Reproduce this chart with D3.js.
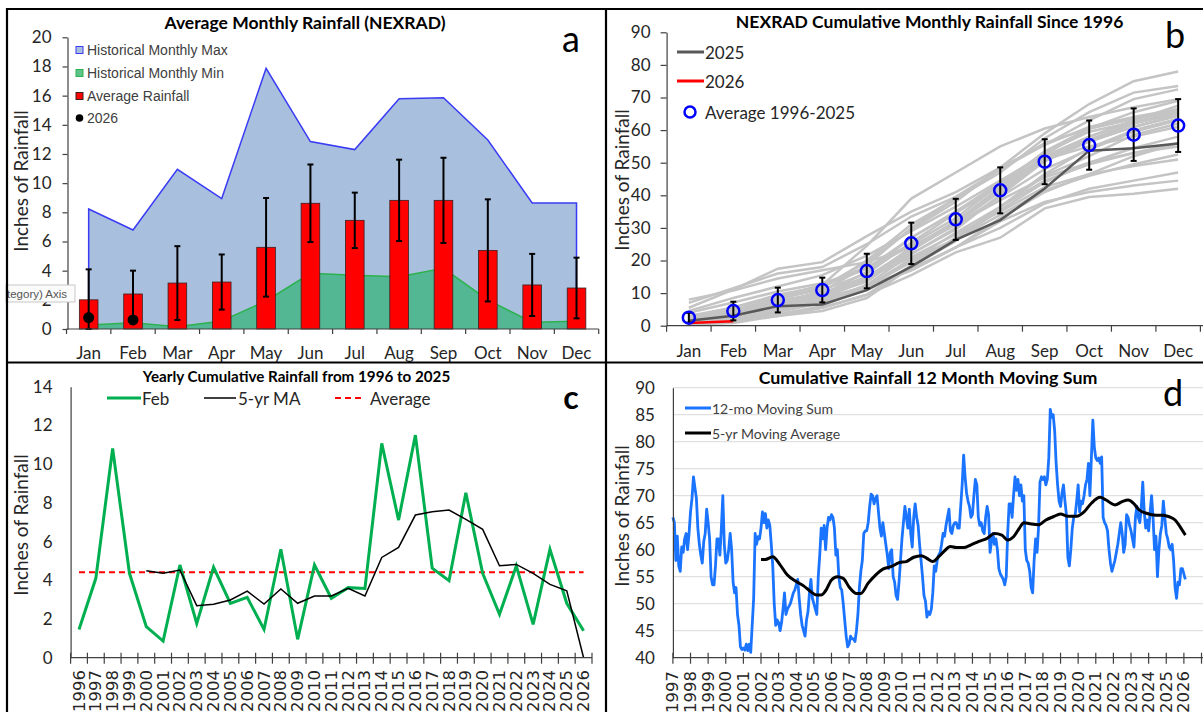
<!DOCTYPE html>
<html><head><meta charset="utf-8">
<script src="https://cdn.jsdelivr.net/npm/d3@7"></script>
<style>body{margin:0;background:#fff} svg{display:block}</style>
</head><body><svg id="chart" width="1203" height="712"></svg>
<script>
// ================= DATA =================
const months = ["Jan","Feb","Mar","Apr","May","Jun","Jul","Aug","Sep","Oct","Nov","Dec"];
// Panel a
const avgRain   = [2.0, 2.4, 3.15, 3.22, 5.6, 8.62, 7.45, 8.82, 8.82, 5.39, 3.02, 2.81];
const avgRainSD = [2.09, 1.6, 2.53, 1.89, 3.38, 2.66, 1.9, 2.79, 2.92, 3.5, 2.13, 2.08];
const histMax   = [8.23, 6.79, 10.95, 8.94, 17.87, 12.85, 12.3, 15.79, 15.86, 12.96, 8.64, 8.64];
const histMin   = [0.27, 0.43, 0.16, 0.55, 1.92, 3.82, 3.68, 3.59, 4.16, 1.99, 0.46, 0.53];
const rain2026  = [0.78, 0.62];
const yTicksA   = [0, 2, 4, 6, 8, 10, 12, 14, 16, 18, 20];
// Panel b
const cumAvg  = [2.45, 4.5, 7.87, 10.94, 16.77, 25.26, 32.62, 41.52, 50.3, 55.4, 58.6, 61.4];
const cumSD   = [1.5, 2.86, 3.8, 3.8, 5.3, 6.35, 6.3, 7.05, 6.9, 7.55, 8.05, 8.1];
const cum2025 = [1.5, 3.07, 6.0, 6.5, 10.9, 18.1, 26.3, 32.4, 42.1, 53.7, 54.4, 55.9];
const cum2026 = [0.8, 1.4];
const yTicksB = [0, 10, 20, 30, 40, 50, 60, 70, 80, 90];
const cumYears = [1996,1997,1998,1999,2000,2001,2002,2003,2004,2005,2006,2007,2008,2009,2010,2011,2012,2013,2014,2015,2016,2017,2018,2019,2020,2021,2022,2023,2024];
const cumHistory = [
  [0.8, 1.46, 4.2, 7.0, 12.5, 22.0, 30.0, 40.0, 50.5, 57.0, 62.0, 66.0],
  [2.2, 4.1, 7.5, 10.0, 15.0, 23.5, 31.0, 39.5, 48.0, 54.0, 59.5, 63.0],
  [8.0, 10.8, 14.5, 17.0, 19.5, 24.0, 31.5, 41.0, 50.5, 58.0, 63.0, 67.5],
  [1.5, 4.36, 6.5, 9.0, 13.5, 23.0, 31.5, 42.0, 51.0, 55.0, 58.0, 61.0],
  [0.6, 1.6, 3.5, 5.5, 9.5, 15.5, 22.5, 27.0, 36.0, 39.5, 40.5, 42.0],
  [0.4, 0.86, 3.0, 4.5, 8.5, 18.0, 26.0, 36.5, 46.0, 52.0, 58.5, 62.0],
  [2.5, 4.79, 7.0, 8.5, 11.5, 17.5, 24.0, 30.0, 37.5, 42.0, 44.5, 47.0],
  [0.9, 1.77, 4.5, 7.5, 12.0, 20.5, 26.5, 34.0, 41.5, 46.0, 49.5, 52.5],
  [2.0, 4.67, 6.5, 8.5, 14.5, 21.0, 28.0, 35.0, 42.5, 46.5, 49.0, 51.0],
  [1.2, 2.81, 6.5, 9.5, 16.5, 27.0, 35.0, 44.0, 53.0, 59.5, 62.5, 65.5],
  [1.5, 3.12, 5.5, 7.5, 12.5, 17.0, 24.0, 32.0, 38.0, 41.0, 43.0, 44.5],
  [0.7, 1.46, 3.0, 5.5, 9.5, 18.5, 27.0, 36.5, 46.5, 54.5, 60.0, 63.5],
  [2.5, 5.6, 9.0, 12.5, 18.0, 25.0, 33.0, 43.5, 51.5, 57.0, 62.0, 65.0],
  [0.5, 0.95, 3.5, 6.0, 12.0, 19.5, 26.5, 35.5, 44.0, 50.0, 54.5, 58.0],
  [2.8, 4.79, 8.5, 11.0, 16.0, 25.5, 34.5, 43.0, 51.5, 56.5, 61.0, 64.5],
  [1.5, 3.07, 6.0, 8.0, 11.5, 17.0, 24.0, 33.0, 41.0, 46.5, 52.0, 56.0],
  [1.8, 3.62, 6.5, 9.5, 14.5, 24.0, 32.0, 41.5, 50.5, 56.5, 61.0, 64.5],
  [1.6, 3.58, 7.0, 10.5, 18.5, 30.0, 39.0, 48.0, 56.0, 60.5, 63.5, 66.0],
  [5.5, 11.07, 17.5, 19.5, 27.5, 35.0, 41.0, 48.5, 55.5, 61.0, 64.0, 66.5],
  [4.0, 7.11, 10.5, 13.0, 17.5, 24.5, 31.0, 38.5, 45.5, 50.0, 53.0, 55.0],
  [7.0, 11.5, 16.0, 18.0, 25.0, 33.5, 39.5, 48.0, 55.5, 63.0, 69.5, 72.5],
  [2.4, 4.62, 8.0, 11.5, 20.0, 31.0, 39.0, 47.0, 57.5, 65.5, 71.5, 73.5],
  [2.0, 3.98, 8.0, 12.5, 24.5, 39.0, 47.0, 55.0, 60.5, 64.0, 67.0, 69.5],
  [4.5, 8.52, 12.0, 15.5, 21.5, 29.0, 36.5, 44.5, 52.5, 60.5, 65.5, 69.0],
  [2.3, 4.36, 8.5, 12.0, 19.5, 29.5, 38.0, 48.5, 59.0, 68.0, 75.0, 78.0],
  [1.0, 2.24, 5.0, 8.5, 12.0, 20.0, 28.5, 36.5, 44.5, 49.5, 53.0, 56.0],
  [2.5, 4.74, 7.5, 10.0, 15.0, 22.0, 29.5, 40.0, 51.0, 57.0, 61.0, 64.5],
  [0.8, 1.72, 5.0, 8.5, 14.0, 23.5, 32.0, 42.5, 52.0, 58.0, 62.5, 65.5],
  [3.0, 5.6, 9.5, 12.0, 17.5, 27.0, 35.0, 43.0, 53.5, 60.5, 63.5, 66.0]
];
// Panel c
const cYears = ["1996","1997","1998","1999","2000","2001","2002","2003","2004","2005","2006","2007","2008","2009","2010","2011","2012","2013","2014","2015","2016","2017","2018","2019","2020","2021","2022","2023","2024","2025","2026"];
const febCum = [1.46, 4.1, 10.81, 4.36, 1.6, 0.86, 4.79, 1.77, 4.67, 2.81, 3.12, 1.46, 5.6, 0.95, 4.79, 3.07, 3.62, 3.58, 11.07, 7.11, 11.5, 4.62, 3.98, 8.52, 4.36, 2.24, 4.74, 1.72, 5.6, 2.81, 1.39];
const febMA  = [null, null, null, null, 4.49, 4.36, 4.53, 2.69, 2.76, 2.98, 3.44, 2.77, 3.55, 2.81, 3.19, 3.19, 3.58, 3.19, 5.18, 5.7, 7.37, 7.54, 7.63, 7.15, 6.63, 4.75, 4.82, 4.36, 3.79, 3.46, 0];
const febAverage = 4.42;
const yTicksC = [0, 2, 4, 6, 8, 10, 12, 14];
// Panel d (monthly, starting Jan 1997)
const dYears = ["1997","1998","1999","2000","2001","2002","2003","2004","2005","2006","2007","2008","2009","2010","2011","2012","2013","2014","2015","2016","2017","2018","2019","2020","2021","2022","2023","2024","2025","2026"];
const movingSum = [
  66, 65, 58, 62.5, 57, 56, 60.5, 59.5, 62, 63, 60, 63,
  67, 69.5, 73.5, 71.5, 69.5, 64, 61, 59, 57.5, 61.5, 63, 67.5,
  65, 62, 55, 53.5, 53.5, 57, 62, 62, 59, 64, 70, 61,
  57.5, 58, 60, 63, 60, 54, 52, 53, 48, 46, 42, 41.5,
  41.8, 41.4, 42.5, 41.3, 42.5, 41, 46, 51, 63, 61, 62.4, 62,
  64, 67, 65, 66.7, 64, 65.5, 64.5, 61, 57, 50, 46, 47,
  46.5, 45, 46.5, 49, 52, 48, 49, 49.5, 50, 51, 52, 52.5,
  53.5, 54.5, 51, 48, 46, 45, 44, 47, 48.5, 52, 54.5, 51,
  50, 49, 48, 55, 59, 64, 62, 64.5, 60, 64, 66, 65.5,
  66.5, 66, 64, 59, 60, 55, 53, 52.5, 50, 47, 44, 42,
  42.5, 44, 43.5, 43.5, 43, 45, 48, 53, 56, 58, 63, 63.5,
  63.5, 65, 68, 70.3, 70, 68.5, 69.5, 70, 67, 64, 62.5, 65,
  63, 61, 59, 56.5, 59.5, 60, 55, 54, 51.5, 50.8, 54, 58,
  62, 65, 68, 66, 64, 67.5, 63, 60.5, 66, 68.5, 66, 64.5,
  61, 58, 55, 51.5, 50.5, 47.5, 48.5, 48, 49, 52, 57, 56,
  58, 59, 59.5, 61, 63, 62.5, 64.5, 66, 67.5, 63.5, 63, 64.5,
  65, 65, 64, 64, 68, 72, 77.5, 73.5, 70.5, 69, 68, 66,
  66.5, 70, 73, 72, 66, 64.5, 65, 63.5, 63, 66, 68, 66.5,
  59.5, 61.5, 63, 61, 62, 60, 56.5, 55.5, 55, 54.5, 53.5, 55,
  63, 68.5, 68.5, 66, 70, 73.5, 71, 73, 70, 72, 69, 70,
  60, 58, 57.5, 56, 53, 52, 58, 62, 59.5, 64, 72.5, 73.5,
  73, 73.5, 72, 73, 77, 86, 84.5, 85, 82, 76, 72, 69,
  68, 70.5, 72, 69, 66.5, 58.5, 57, 60, 64, 66, 66.5, 69,
  72, 67, 69, 68.5, 70, 72, 73, 76, 70, 77, 84, 79,
  77, 76.5, 77, 76, 77.2, 66, 65, 64.5, 63.5, 60, 57.5, 56,
  57, 58, 59.5, 61, 63, 65, 63, 59.5, 61, 66.5, 66, 64.5,
  63.5, 62, 60.5, 66, 68, 66, 65, 68, 72.5, 67, 64, 65.5,
  63.5, 67, 70, 66, 60, 62.5, 55, 60, 63, 64.5, 69, 66,
  63, 62, 60.5, 60, 61, 58, 53, 51, 54, 53.5, 56.5, 56.5,
  55.5, 54.5
];
const maMonth = [60,63,68,73,78,84,89,94,98,101,104,108,112,116,120,125,128,133,138,143,149,154,159,164,169,173,177,181,185,189,193,198,203,208,214,219,224,228,232,236,239,243,249,254,259,264,269,275,280,285,291,295,301,306,310,314,317,323,329,334,338,342,346,349];
const maValue = [58.2,58.2,58.7,57.2,55.3,54.1,53.3,52.2,51.6,51.6,52.4,54.4,55.0,54.7,53.1,51.9,51.9,53.8,55.3,56.4,56.9,57.6,57.8,58.6,58.9,58.4,57.8,58.7,59.8,60.6,60.4,60.4,60.9,61.5,62.1,63.0,62.7,61.8,62.4,64.0,65.0,64.8,64.6,65.5,66.1,66.6,66.2,66.2,67.0,68.6,69.7,69.2,68.3,68.9,69.2,68.5,67.5,66.7,66.4,66.4,66.1,65.5,64.0,62.7];
const yTicksD = [40, 45, 50, 55, 60, 65, 70, 75, 80, 85, 90];

// ================= DRAW =================
const FONT = "Lato, 'Open Sans', sans-serif";
const TXT = "#262626";
const svg = d3.select("#chart");

function yAxis(scale, x, ticks, size, pad) {
  svg.append("g").attr("transform", `translate(${x},0)`)
    .call(d3.axisLeft(scale).tickValues(ticks).tickSize(size).tickSizeOuter(0).tickPadding(pad))
    .call(s => {
      s.selectAll("text").attr("font-family", FONT).attr("font-size", 17).attr("fill", TXT);
      s.selectAll("line,path").attr("stroke", "#404040").attr("stroke-width", 1.2);
    });
}
function title(x, y, t, fs) {
  svg.append("text").attr("x", x).attr("y", y).attr("text-anchor", "middle").attr("dominant-baseline", "central")
    .attr("font-family", FONT).attr("font-weight", "bold").attr("font-size", fs).attr("fill", "#000").text(t);
}
function yTitle(x, y) {
  svg.append("text").attr("transform", `translate(${x},${y}) rotate(-90)`).attr("text-anchor", "middle")
    .attr("dominant-baseline", "central").attr("font-family", FONT).attr("font-size", 19).attr("fill", TXT)
    .text("Inches of Rainfall");
}
function letter(x, y, t, fs, bold) {
  svg.append("text").attr("x", x).attr("y", y).attr("text-anchor", "middle").attr("dominant-baseline", "central")
    .attr("font-family", FONT).attr("font-size", fs).attr("font-weight", bold ? "bold" : "normal").attr("fill", "#000").text(t);
}

// ---------- Panel a ----------
const xA = d3.scaleBand().domain(months).range([66.5, 598.7]);
const yA = d3.scaleLinear().domain([0, 20]).range([329, 37.3]);
const cA = m => xA(m) + xA.bandwidth() / 2;

svg.append("path").datum(months)
  .attr("d", d3.area().x(d => cA(d)).y0(yA(0)).y1((d, i) => yA(histMax[i])))
  .attr("fill", "#a8bfde");
const maxOutline = [[months[0], 0]].concat(months.map((m, i) => [m, histMax[i]]), [[months[11], 0]]);
svg.append("path").datum(maxOutline)
  .attr("d", d3.line().x(d => cA(d[0])).y(d => yA(d[1])))
  .attr("fill", "none").attr("stroke", "#3a3cf5").attr("stroke-width", 1.5);
svg.append("path").datum(months)
  .attr("d", d3.area().x(d => cA(d)).y0(yA(0)).y1((d, i) => yA(histMin[i])))
  .attr("fill", "#53b794");
svg.append("path").datum(months)
  .attr("d", d3.line().x(d => cA(d)).y((d, i) => yA(histMin[i])))
  .attr("fill", "none").attr("stroke", "#2db24e").attr("stroke-width", 1.5);

const barW = xA.bandwidth() * 0.42;
svg.append("g").selectAll("rect").data(months).join("rect")
  .attr("x", d => cA(d) - barW / 2).attr("width", barW)
  .attr("y", (d, i) => yA(avgRain[i])).attr("height", (d, i) => yA(0) - yA(avgRain[i]))
  .attr("fill", "#ff0000").attr("stroke", "#3a2020").attr("stroke-width", 0.8);

const eA = svg.append("g").attr("stroke", "#000").attr("stroke-width", 2);
months.forEach((m, i) => {
  const lo = Math.max(0, avgRain[i] - avgRainSD[i]), hi = avgRain[i] + avgRainSD[i], x = cA(m);
  eA.append("line").attr("x1", x).attr("x2", x).attr("y1", yA(lo)).attr("y2", yA(hi));
  eA.append("line").attr("x1", x - 3).attr("x2", x + 3).attr("y1", yA(hi)).attr("y2", yA(hi));
  eA.append("line").attr("x1", x - 3).attr("x2", x + 3).attr("y1", yA(lo)).attr("y2", yA(lo));
});
svg.append("g").selectAll("circle").data(rain2026).join("circle")
  .attr("cx", (d, i) => cA(months[i])).attr("cy", d => yA(d)).attr("r", 5.5).attr("fill", "#000");

yAxis(yA, 67.5, yTicksA, 5, 11);
svg.append("line").attr("x1", 66.5).attr("x2", 598.7).attr("y1", yA(0)).attr("y2", yA(0)).attr("stroke", "#404040").attr("stroke-width", 1.2);
months.concat(["end"]).forEach((m, i) => {
  const x = i < 12 ? xA(m) : xA.range()[1];
  svg.append("line").attr("x1", x).attr("x2", x).attr("y1", yA(0)).attr("y2", yA(0) + 5).attr("stroke", "#404040").attr("stroke-width", 1.2);
});
svg.append("g").selectAll("text").data(months).join("text")
  .attr("x", d => cA(d)).attr("y", 359).attr("text-anchor", "middle")
  .attr("font-family", FONT).attr("font-size", 17).attr("fill", TXT).text(d => d);

// legend a
const legA = [
  {t: "Historical Monthly Max", fill: "#a8bfde", stroke: "#3a3cf5", y: 50},
  {t: "Historical Monthly Min", fill: "#5cc48a", stroke: "#2db24e", y: 73},
  {t: "Average Rainfall", fill: "#ff0000", stroke: "#3a2020", y: 96},
  {t: "2026", dot: true, y: 118}
];
legA.forEach(l => {
  if (l.dot) svg.append("circle").attr("cx", 79.5).attr("cy", l.y).attr("r", 3.8).attr("fill", "#000");
  else svg.append("rect").attr("x", 76).attr("y", l.y - 3.5).attr("width", 7).attr("height", 7).attr("fill", l.fill).attr("stroke", l.stroke).attr("stroke-width", 1);
  svg.append("text").attr("x", 87).attr("y", l.y).attr("dominant-baseline", "central")
    .attr("font-family", "'Liberation Sans', Arial, sans-serif").attr("font-size", 14).attr("fill", "#404040").text(l.t);
});
title(305, 22, "Average Monthly Rainfall (NEXRAD)", 17.5);
yTitle(20, 181);
letter(571, 38, "a", 36, false);
// tooltip artifact
svg.append("rect").attr("x", 6).attr("y", 285).attr("width", 69).attr("height", 17).attr("fill", "#fbfbfb").attr("stroke", "#c8c8c8").attr("stroke-width", 1);
svg.append("text").attr("x", 7).attr("y", 297.5).attr("font-family", "'Liberation Sans', Arial, sans-serif").attr("font-size", 11.5).attr("fill", "#555").text("tegory) Axis");

// ---------- Panel b ----------
const xB = d3.scaleBand().domain(months).range([666.6, 1200.4]);
const yB = d3.scaleLinear().domain([0, 90]).range([325.7, 32.3]);
const cB = m => xB(m) + xB.bandwidth() / 2;
const lineB = d3.line().x((d, i) => cB(months[i])).y(d => yB(d));

svg.append("g").selectAll("path").data(cumHistory).join("path")
  .attr("d", d => lineB(d)).attr("fill", "none").attr("stroke", "#c4c4c4").attr("stroke-width", 2.5);
svg.append("path").datum(cum2025).attr("d", lineB).attr("fill", "none").attr("stroke", "#595959").attr("stroke-width", 2.5);
svg.append("path").datum(cum2026).attr("d", lineB).attr("fill", "none").attr("stroke", "#ff0000").attr("stroke-width", 2.5);
const eB = svg.append("g").attr("stroke", "#000").attr("stroke-width", 2);
months.forEach((m, i) => {
  const lo = cumAvg[i] - cumSD[i], hi = cumAvg[i] + cumSD[i], x = cB(m);
  eB.append("line").attr("x1", x).attr("x2", x).attr("y1", yB(lo)).attr("y2", yB(hi));
  eB.append("line").attr("x1", x - 3).attr("x2", x + 3).attr("y1", yB(hi)).attr("y2", yB(hi));
  eB.append("line").attr("x1", x - 3).attr("x2", x + 3).attr("y1", yB(lo)).attr("y2", yB(lo));
});
svg.append("g").selectAll("circle").data(cumAvg).join("circle")
  .attr("cx", (d, i) => cB(months[i])).attr("cy", d => yB(d)).attr("r", 6)
  .attr("fill", "none").attr("stroke", "#0000ff").attr("stroke-width", 2.5);

yAxis(yB, 666.6, yTicksB, 6, 10);
svg.append("line").attr("x1", 666.6).attr("x2", 1203).attr("y1", yB(0)).attr("y2", yB(0)).attr("stroke", "#404040").attr("stroke-width", 1.2);
months.concat(["end"]).forEach((m, i) => {
  const x = i < 12 ? xB(m) : xB.range()[1];
  svg.append("line").attr("x1", x).attr("x2", x).attr("y1", yB(0)).attr("y2", yB(0) + 6).attr("stroke", "#404040").attr("stroke-width", 1.2);
});
svg.append("g").selectAll("text").data(months).join("text")
  .attr("x", d => cB(d)).attr("y", 357).attr("text-anchor", "middle")
  .attr("font-family", FONT).attr("font-size", 17).attr("fill", TXT).text(d => d);
// legend b
[["2025", "#595959", 52], ["2026", "#ff0000", 81]].forEach(([t, c, y]) => {
  svg.append("line").attr("x1", 677).attr("x2", 704).attr("y1", y).attr("y2", y).attr("stroke", c).attr("stroke-width", 3);
  svg.append("text").attr("x", 705).attr("y", y).attr("dominant-baseline", "central").attr("font-family", FONT).attr("font-size", 17).attr("fill", TXT).text(t);
});
svg.append("circle").attr("cx", 690).attr("cy", 112).attr("r", 5.5).attr("fill", "none").attr("stroke", "#0000ff").attr("stroke-width", 2.5);
svg.append("text").attr("x", 705).attr("y", 112).attr("dominant-baseline", "central").attr("font-family", FONT).attr("font-size", 17).attr("fill", TXT).text("Average 1996-2025");
title(929.6, 21, "NEXRAD Cumulative Monthly Rainfall Since 1996", 17.5);
yTitle(621, 180);
letter(1175, 34, "b", 36, false);

// ---------- Panel c ----------
const xC = d3.scaleBand().domain(cYears).range([70.6, 592]);
const yC = d3.scaleLinear().domain([0, 14]).range([657.7, 386.7]);
const cC = y => xC(y) + xC.bandwidth() / 2;
svg.append("line").attr("x1", cC(cYears[0])).attr("x2", cC(cYears[cYears.length - 1]))
  .attr("y1", yC(febAverage)).attr("y2", yC(febAverage))
  .attr("stroke", "#ff0000").attr("stroke-width", 2).attr("stroke-dasharray", "6,4");
svg.append("path").datum(febCum)
  .attr("d", d3.line().x((d, i) => cC(cYears[i])).y(d => yC(d)))
  .attr("fill", "none").attr("stroke", "#00b050").attr("stroke-width", 3);
svg.append("path").datum(febMA)
  .attr("d", d3.line().defined(d => d !== null).x((d, i) => cC(cYears[i])).y(d => yC(d)))
  .attr("fill", "none").attr("stroke", "#000").attr("stroke-width", 1.5);
yAxis(yC, 70.6, yTicksC, 0, 18);
svg.append("line").attr("x1", 70.6).attr("x2", 592).attr("y1", yC(0)).attr("y2", yC(0)).attr("stroke", "#404040").attr("stroke-width", 1.2);
cYears.concat(["end"]).forEach((y, i) => {
  const x = i < cYears.length ? xC(y) : xC.range()[1];
  svg.append("line").attr("x1", x).attr("x2", x).attr("y1", yC(0) - 5).attr("y2", yC(0) + 6).attr("stroke", "#404040").attr("stroke-width", 1.2);
});
svg.append("g").selectAll("text").data(cYears).join("text")
  .attr("transform", d => `translate(${cC(d)},670) rotate(-90)`).attr("text-anchor", "end").attr("dominant-baseline", "central")
  .attr("font-family", "'DejaVu Sans', sans-serif").attr("font-size", 16.5).attr("fill", TXT).text(d => d);
// legend c
svg.append("line").attr("x1", 107).attr("x2", 141).attr("y1", 398).attr("y2", 398).attr("stroke", "#00b050").attr("stroke-width", 3);
svg.append("text").attr("x", 142).attr("y", 398).attr("dominant-baseline", "central").attr("font-family", FONT).attr("font-size", 17).attr("fill", TXT).text("Feb");
svg.append("line").attr("x1", 204).attr("x2", 236).attr("y1", 398).attr("y2", 398).attr("stroke", "#000").attr("stroke-width", 1.5);
svg.append("text").attr("x", 238).attr("y", 398).attr("dominant-baseline", "central").attr("font-family", FONT).attr("font-size", 17).attr("fill", TXT).text("5-yr MA");
svg.append("line").attr("x1", 335).attr("x2", 363).attr("y1", 398).attr("y2", 398).attr("stroke", "#ff0000").attr("stroke-width", 2).attr("stroke-dasharray", "6,4");
svg.append("text").attr("x", 370).attr("y", 398).attr("dominant-baseline", "central").attr("font-family", FONT).attr("font-size", 17).attr("fill", TXT).text("Average");
title(296.5, 376, "Yearly Cumulative Rainfall from 1996 to 2025", 15.2);
yTitle(20, 525);
letter(571, 396, "c", 32, true);

// ---------- Panel d ----------
const xD = d3.scaleLinear().domain([1997, 2027]).range([672.9, 1201.5]);
const yD = d3.scaleLinear().domain([40, 90]).range([657.7, 387.7]);
svg.append("g").selectAll("line").data(yTicksD.slice(1)).join("line")
  .attr("x1", 672.9).attr("x2", 1203).attr("y1", d => yD(d)).attr("y2", d => yD(d))
  .attr("stroke", "#d9d9d9").attr("stroke-width", 1);
svg.append("path").datum(movingSum)
  .attr("d", d3.line().x((d, i) => xD(1997 + i / 12)).y(d => yD(d)))
  .attr("fill", "none").attr("stroke", "#1a74ff").attr("stroke-width", 2.8).attr("stroke-linejoin", "round");
svg.append("path").datum(maValue)
  .attr("d", d3.line().curve(d3.curveMonotoneX).x((d, i) => xD(1997 + maMonth[i] / 12)).y(d => yD(d)))
  .attr("fill", "none").attr("stroke", "#000").attr("stroke-width", 3);
yAxis(yD, 672.9, yTicksD, 0, 18);
svg.append("line").attr("x1", 672.9).attr("x2", 1203).attr("y1", yD(40)).attr("y2", yD(40)).attr("stroke", "#404040").attr("stroke-width", 1.2);
dYears.concat(["2027"]).forEach(y => {
  const x = xD(+y);
  svg.append("line").attr("x1", x).attr("x2", x).attr("y1", yD(40) - 5).attr("y2", yD(40) + 6).attr("stroke", "#404040").attr("stroke-width", 1.2);
});
svg.append("g").selectAll("text").data(dYears).join("text")
  .attr("transform", d => `translate(${xD(+d)},671) rotate(-90)`).attr("text-anchor", "end").attr("dominant-baseline", "central")
  .attr("font-family", "'DejaVu Sans', sans-serif").attr("font-size", 16.5).attr("fill", TXT).text(d => d);
[["12-mo Moving Sum", "#1a74ff", 408], ["5-yr Moving Average", "#000", 433]].forEach(([t, c, y]) => {
  svg.append("line").attr("x1", 685).attr("x2", 711).attr("y1", y).attr("y2", y).attr("stroke", c).attr("stroke-width", 3);
  svg.append("text").attr("x", 712).attr("y", y).attr("dominant-baseline", "central").attr("font-family", FONT).attr("font-size", 14).attr("fill", "#404040").text(t);
});
title(928, 377, "Cumulative Rainfall 12 Month Moving Sum", 17.8);
yTitle(621, 516);
letter(1173, 392, "d", 36, false);

// ---------- frames ----------
const fr = svg.append("g").attr("stroke", "#000").attr("stroke-width", 2.2);
fr.append("line").attr("x1", 6).attr("x2", 1203).attr("y1", 9).attr("y2", 9);
fr.append("line").attr("x1", 7).attr("x2", 7).attr("y1", 8).attr("y2", 712);
fr.append("line").attr("x1", 606).attr("x2", 606).attr("y1", 8).attr("y2", 712);
fr.append("line").attr("x1", 6).attr("x2", 1203).attr("y1", 362.5).attr("y2", 362.5);
</script></body></html>
